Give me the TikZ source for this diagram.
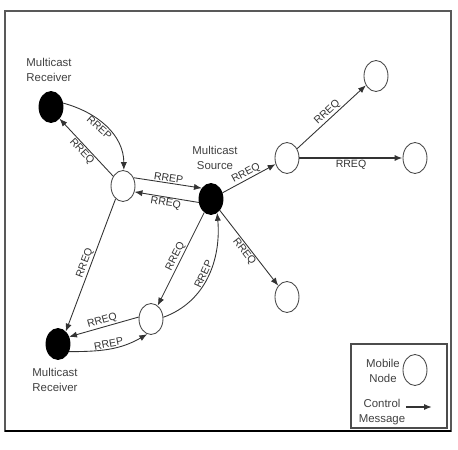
\documentclass[tikz,border=0pt]{standalone}
\usepackage{fontspec}
\setmainfont{Liberation Sans}
\usetikzlibrary{shapes.geometric, arrows.meta, positioning}

\begin{document}
\begin{tikzpicture}[
    x=0.02cm, y=-0.02cm,
    mnode/.style={ellipse, draw=black!70, line width=0.5pt, fill=white, minimum width=0.48cm, minimum height=0.62cm, inner sep=0pt},
    rnode/.style={mnode, draw=black, fill=black},
    tag/.style={font=\fontsize{6.5}{9}\selectfont, text=black!75, align=center, inner sep=0pt},
    arrow/.style={-{Latex[length=4.5pt, width=3.5pt]}, black!80, line width=0.5pt},
    msg/.style={font=\fontsize{6}{7}\selectfont, text=black!80, sloped, inner sep=0.6pt}
]
\useasboundingbox (0,0) rectangle (458,450);

% frame
\coordinate (fnw) at (5,11);
\coordinate (fse) at (451,431);
\draw[black!65, line width=0.9pt] (fnw) rectangle (fse);
\draw[line width=1.7pt] (fnw |- fse) -- (fse);

% nodes
\node[rnode] (rxtop) at (51,107) {};
\node[mnode] (relay) at (123,186) {};
\node[rnode] (src) at (211,199) {};
\node[mnode] (fwd) at (287,158) {};
\node[mnode] (far) at (376,76) {};
\node[mnode] (side) at (415,158) {};
\node[mnode] (low) at (287,297) {};
\node[mnode] (hop) at (151,319) {};
\node[rnode] (rxbot) at (58,344) {};

\node[tag] (rxtoptag) at (49,70) {Multicast\\Receiver};
\node[tag] (srctag) at (215,158) {Multicast\\Source};
\node[tag] (rxbottag) at (55,380) {Multicast\\Receiver};

% messages
\draw[arrow] (relay.135) -- node[msg, below] {RREQ} (rxtop.-54);
\draw[arrow] (rxtop.18) to[out=-15, in=90] node[msg, below, pos=0.45] {RREP} (relay.87);
\draw[arrow] (relay.38) -- node[msg, above] {RREP} (src.130);
\draw[arrow] (src.196) -- node[msg, below] {RREQ} (relay.-27);
\draw[arrow] (relay.-120) -- node[msg, above] {RREQ} (rxbot.58);
\draw[arrow] (src) -- node[msg, above] {RREQ} (hop);
\draw[arrow] (hop.8) to[out=20, in=-85] node[msg, above] {RREP} (src.-66);
\draw[arrow] (hop.171) -- node[msg, above] {RREQ} (rxbot.33);
\draw[arrow] (rxbot.-35) to[out=0, in=210] node[msg, above] {RREP} (hop.-104);
\draw[arrow] (src) -- node[msg, above] {RREQ} (fwd);
\draw[arrow] (fwd) -- node[msg, above] {RREQ} (far);
\draw[arrow, line width=0.9pt] (fwd) -- node[msg, below] {RREQ} (side);
\draw[arrow] (src) -- node[msg, below] {RREQ} (low);

% legend
\node[draw=black!70, line width=0.8pt, minimum width=1.92cm, minimum height=1.68cm, inner sep=0pt] (legend) at (399,386) {};
\node[tag] (mobiletag) at (383,371) {Mobile\\Node};
\node[mnode] (mobile) at (415,370) {};
\node[tag] (ctrltag) at (382,412) {Control\\Message};
\coordinate (ctrla) at (406,407);
\coordinate (ctrlb) at (432,407);
\draw[arrow, line width=0.9pt] (ctrla) -- (ctrlb);
\end{tikzpicture}
\end{document}
